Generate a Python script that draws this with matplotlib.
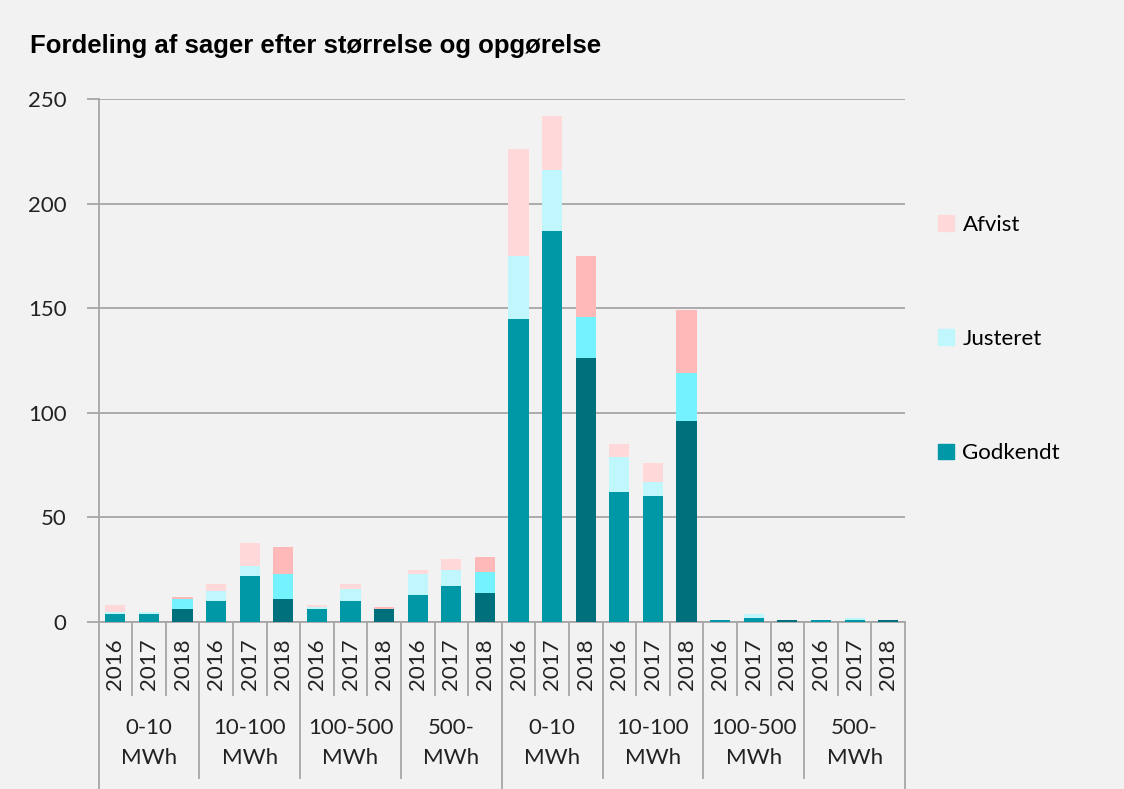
import matplotlib.pyplot as plt
import matplotlib.transforms as mtransforms
from matplotlib.patches import Patch
import numpy as np

plt.rcParams['font.family'] = ['Lato', 'DejaVu Sans']

years = ['2016', '2017', '2018']
groups = ['0-10\nMWh', '10-100\nMWh', '100-500\nMWh', '500-\nMWh',
          '0-10\nMWh', '10-100\nMWh', '100-500\nMWh', '500-\nMWh']

godkendt = [4, 4, 6, 10, 22, 11, 6, 10, 6, 13, 17, 14,
            145, 187, 126, 62, 60, 96, 1, 2, 1, 1, 1, 1]
justeret = [1, 1, 5, 5, 5, 12, 1, 6, 0, 10, 8, 10,
            30, 29, 20, 17, 7, 23, 0, 2, 0, 0, 1, 0]
afvist = [3, 0, 1, 3, 11, 13, 1, 2, 1, 2, 5, 7,
          51, 26, 29, 6, 9, 30, 0, 0, 0, 0, 0, 0]

# light shades for 2016/2017, darker for 2018
c_god = ['#0097a7', '#0097a7', '#00717c']
c_jus = ['#bff7fc', '#bff7fc', '#74f3ff']
c_afv = ['#ffd9d9', '#ffd9d9', '#ffb9b9']

bg = '#f2f2f2'
grey = '#a6a6a6'

W, H = 1124, 789
fig = plt.figure(figsize=(W / 100, H / 100), dpi=100, facecolor=bg)
left, right, top, bottom = 98.5, 905, 99, 622
ax = fig.add_axes([left / W, 1 - bottom / H, (right - left) / W, (bottom - top) / H])
ax.set_facecolor(bg)

n = len(godkendt)
x = np.arange(n)
g = np.array(godkendt)
j = np.array(justeret)
a = np.array(afvist)
cols_g = [c_god[i % 3] for i in range(n)]
cols_j = [c_jus[i % 3] for i in range(n)]
cols_a = [c_afv[i % 3] for i in range(n)]

ax.bar(x, g, width=0.6, color=cols_g, zorder=3)
ax.bar(x, j, width=0.6, bottom=g, color=cols_j, zorder=3)
ax.bar(x, a, width=0.6, bottom=g + j, color=cols_a, zorder=3)

ax.set_xlim(-0.5, n - 0.5)
ax.set_ylim(0, 250)
ax.set_yticks(range(0, 251, 50))
ax.yaxis.grid(True, color=grey, linewidth=1.3, zorder=0)
ax.tick_params(axis='y', length=9, width=1.3, color=grey, labelsize=16, pad=14,
               labelcolor='#222222')
ax.set_xticks([])
for s in ['top', 'right']:
    ax.spines[s].set_visible(False)
ax.spines['left'].set_color(grey)
ax.spines['left'].set_linewidth(1.3)
ax.spines['bottom'].set_color(grey)
ax.spines['bottom'].set_linewidth(1.3)

# multi-level category axis, drawn below the plot area
trans = mtransforms.blended_transform_factory(ax.transData, ax.transAxes)
ph = bottom - top

def ypix(p):
    # pixel row in the figure -> axes fraction
    return (bottom - p) / ph

for i in range(n + 1):
    xb = i - 0.5
    if i % 12 == 0:
        end = ypix(800)
    elif i % 3 == 0:
        end = ypix(778)
    else:
        end = ypix(695)
    ax.plot([xb, xb], [0, end], transform=trans, color=grey, lw=1.3, clip_on=False)

for i in range(n):
    ax.text(i, ypix(638), years[i % 3], transform=trans, rotation=90,
            ha='center', va='top', fontsize=16, color='#222222')

for k, lab in enumerate(groups):
    ax.text(3 * k + 1, ypix(743), lab, transform=trans, ha='center', va='center',
            fontsize=16, linespacing=1.65, color='#222222')

fig.text(30 / W, 1 - 46 / H, 'Fordeling af sager efter størrelse og opgørelse',
         fontsize=18.5, fontweight='bold', family='Liberation Sans', va='center')

handles = [Patch(color=c_afv[0], label='Afvist'),
           Patch(color=c_jus[0], label='Justeret'),
           Patch(color=c_god[0], label='Godkendt')]
fig.legend(handles=handles, loc='center left', bbox_to_anchor=(938 / W, 1 - 339 / H),
           frameon=False, fontsize=16, handlelength=0.7, handleheight=0.7,
           handletextpad=0.4, labelspacing=4.25, borderpad=0, borderaxespad=0)

fig.savefig('out.png', dpi=100, facecolor=bg)
